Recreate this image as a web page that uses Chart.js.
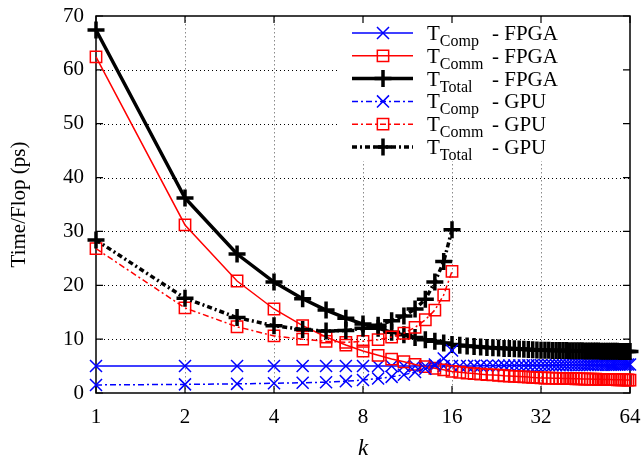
<!DOCTYPE html>
<html><head><meta charset="utf-8">
<script src="https://cdn.jsdelivr.net/npm/chart.js@4.4.0/dist/chart.umd.min.js"></script>
<style>html,body{margin:0;padding:0;background:#fff}</style>
</head><body>
<canvas id="c" width="642" height="460"></canvas>
<script>
// ---- data ----
const kFPGA = [1,2,3,4,5,6,7,8,9,10,11,12,13,14,15,16,17,18,19,20,21,22,23,24,25,26,27,28,29,30,31,32,
  33,34,35,36,37,38,39,40,41,42,43,44,45,46,47,48,49,50,51,52,53,54,55,56,57,58,59,60,61,62,63,64];
const tCompFPGA = [5.0,5.0,5.0,5.0,5.0,5.0,5.0,5.0,5.0,5.0,5.0,5.0,5.0,5.0,5.0,5.0,
  5.01,5.02,5.03,5.04,5.05,5.06,5.07,5.08,5.09,5.10,5.11,5.12,5.13,5.14,5.14,5.15,
  5.15,5.16,5.16,5.17,5.17,5.18,5.18,5.19,5.19,5.20,5.20,5.21,5.21,5.22,5.22,5.23,
  5.23,5.24,5.24,5.25,5.25,5.26,5.26,5.27,5.27,5.28,5.28,5.29,5.29,5.30,5.30,5.30];
const tCommFPGA = [62.4,31.2,20.8,15.6,12.5,10.4,8.9,7.8,7.0,6.3,5.8,5.3,4.9,4.6,4.3,4.0,
  3.85,3.7,3.6,3.5,3.4,3.35,3.3,3.2,3.15,3.1,3.05,3.0,2.95,2.9,2.85,2.8,
  2.78,2.77,2.75,2.73,2.72,2.7,2.69,2.67,2.66,2.64,2.63,2.62,2.6,2.59,2.58,2.57,
  2.56,2.54,2.53,2.52,2.51,2.5,2.49,2.48,2.47,2.46,2.45,2.44,2.43,2.42,2.41,2.4];
const tTotalFPGA = [67.4,36.2,25.8,20.6,17.5,15.4,13.9,12.8,12.0,11.3,10.8,10.3,9.9,9.6,9.3,9.0,
  8.86,8.72,8.63,8.54,8.45,8.41,8.37,8.28,8.24,8.2,8.16,8.12,8.08,8.04,7.99,7.95,
  7.93,7.93,7.91,7.9,7.89,7.88,7.87,7.86,7.85,7.84,7.83,7.83,7.81,7.81,7.8,7.8,
  7.79,7.78,7.77,7.77,7.76,7.75,7.75,7.74,7.73,7.73,7.72,7.72,7.72,7.71,7.71,7.7];
const kGPU = [1,2,3,4,5,6,7,8,9,10,11,12,13,14,15,16];
const tCompGPU = [1.5,1.6,1.7,1.8,1.9,2.0,2.2,2.4,2.7,3.0,3.4,3.9,4.5,5.3,6.4,7.9];
const tCommGPU = [26.8,15.8,12.3,10.6,10.0,9.6,9.4,9.6,9.9,10.4,11.1,12.2,13.6,15.4,18.2,22.6];
const tTotalGPU = [28.4,17.6,14.0,12.5,11.8,11.5,11.6,12.0,12.6,13.4,14.3,15.6,17.4,20.6,24.4,30.3];
const xTicks = [1,2,4,8,16,32,64];
const yTicks = [0,10,20,30,40,50,60,70];
const legendMain = ['T','T','T','T','T','T'];
const legendSub = ['Comp','Comm','Total','Comp','Comm','Total'];
const legendSuffix = ['- FPGA','- FPGA','- FPGA','- GPU','- GPU','- GPU'];

const SERIF = '"Liberation Serif", "DejaVu Serif", serif';
const pts = (ks, vs) => ks.map((k, i) => ({x: k, y: vs[i]}));
const dd = [6,3,2,3];

const series = [
  {data: pts(kFPGA, tCompFPGA), color: '#0000ff', width: 1.5, dash: [], style: 'crossRot', r: 8.5, pw: 1.5},
  {data: pts(kFPGA, tCommFPGA), color: '#ff0000', width: 1.5, dash: [], style: 'rect', r: 8, pw: 1.5},
  {data: pts(kFPGA, tTotalFPGA), color: '#000000', width: 3.5, dash: [], style: 'cross', r: 8.5, pw: 3.5},
  {data: pts(kGPU, tCompGPU), color: '#0000ff', width: 1.5, dash: dd, style: 'crossRot', r: 8.5, pw: 1.5},
  {data: pts(kGPU, tCommGPU), color: '#ff0000', width: 1.5, dash: dd, style: 'rect', r: 8, pw: 1.5},
  {data: pts(kGPU, tTotalGPU), color: '#000000', width: 3.5, dash: [5,3,2,3], style: 'cross', r: 8.5, pw: 3.5}
];

const datasets = series.map((s, i) => ({
  data: s.data, showLine: true, borderColor: s.color, borderWidth: s.width, borderDash: s.dash,
  pointStyle: s.style, pointRadius: s.r, pointBorderColor: s.color, pointBackgroundColor: 'rgba(0,0,0,0)',
  pointBorderWidth: s.pw, tension: 0, clip: false, order: 5 - i
}));

const frame = {
  id: 'frame',
  beforeDatasetsDraw(chart) {
    const {ctx, chartArea: a, scales: {x, y}} = chart;
    ctx.save();
    ctx.lineWidth = 1;
    ctx.strokeStyle = '#8a8a8a';
    ctx.setLineDash([1.5, 2.5]);
    xTicks.slice(1, -1).forEach(v => {
      const px = Math.round(x.getPixelForValue(v)) + 0.5;
      ctx.beginPath(); ctx.moveTo(px, a.top); ctx.lineTo(px, a.bottom); ctx.stroke();
    });
    ctx.strokeStyle = '#000';
    ctx.setLineDash([1, 3]);
    yTicks.slice(1, -1).forEach(v => {
      const py = Math.round(y.getPixelForValue(v)) + 0.5;
      ctx.beginPath(); ctx.moveTo(a.left, py); ctx.lineTo(a.right, py); ctx.stroke();
    });
    ctx.setLineDash([]);
    ctx.fillStyle = '#fff';
    ctx.fillRect(340, a.top + 1, a.right - 341, 160 - a.top);
    ctx.strokeStyle = '#000';
    ctx.lineWidth = 1.5;
    ctx.strokeRect(a.left, a.top, a.right - a.left, a.bottom - a.top);
    ctx.lineWidth = 1.2;
    xTicks.forEach(v => {
      const px = x.getPixelForValue(v);
      ctx.beginPath();
      ctx.moveTo(px, a.bottom); ctx.lineTo(px, a.bottom - 7);
      ctx.moveTo(px, a.top); ctx.lineTo(px, a.top + 7);
      ctx.stroke();
    });
    yTicks.forEach(v => {
      const py = y.getPixelForValue(v);
      ctx.beginPath();
      ctx.moveTo(a.left, py); ctx.lineTo(a.left + 7, py);
      ctx.moveTo(a.right, py); ctx.lineTo(a.right - 7, py);
      ctx.stroke();
    });
    ctx.restore();
  },
  afterDatasetsDraw(chart) {
    const ctx = chart.ctx;
    ctx.save();
    series.forEach((s, i) => {
      const yy = 33 + i * 22.8;
      ctx.strokeStyle = s.color;
      ctx.lineWidth = s.width;
      ctx.setLineDash(s.dash);
      ctx.beginPath(); ctx.moveTo(352, yy); ctx.lineTo(413, yy); ctx.stroke();
      ctx.setLineDash([]);
      ctx.strokeStyle = s.color; ctx.fillStyle = 'rgba(0,0,0,0)';
      ctx.lineWidth = s.pw;
      Chart.helpers.drawPoint(ctx, {pointStyle: s.style, radius: s.r, rotation: 0, borderWidth: s.pw}, 383, yy);
      ctx.fillStyle = '#000';
      ctx.textBaseline = 'alphabetic';
      ctx.textAlign = 'left';
      ctx.font = '21px ' + SERIF;
      ctx.fillText(legendMain[i], 427, yy + 7);
      const tw = ctx.measureText(legendMain[i]).width;
      ctx.font = '16px ' + SERIF;
      ctx.fillText(legendSub[i], 427 + tw, yy + 13);
      ctx.font = '21px ' + SERIF;
      ctx.fillText(legendSuffix[i], 492, yy + 7);
    });
    ctx.restore();
  }
};

new Chart(document.getElementById('c'), {
  type: 'scatter',
  data: {datasets},
  options: {
    responsive: false, animation: false, devicePixelRatio: 1,
    layout: {padding: {left: 0, right: 10, top: 16, bottom: 0}},
    plugins: {legend: {display: false}, tooltip: {enabled: false}},
    scales: {
      x: {
        type: 'logarithmic', min: 1, max: 64,
        afterBuildTicks: s => { s.ticks = xTicks.map(v => ({value: v})); },
        afterFit: s => { s.height = 67; s.paddingLeft = 0; s.paddingRight = 0; },
        ticks: {callback: v => String(v), font: {family: SERIF, size: 21}, color: '#000', padding: 12, maxRotation: 0, autoSkip: false},
        grid: {display: false, drawTicks: false}, border: {display: false},
        title: {display: true, text: 'k', font: {family: SERIF, size: 23, style: 'italic', lineHeight: 1.0}, color: '#000', padding: {top: 0, bottom: 0}}
      },
      y: {
        min: 0, max: 70,
        afterBuildTicks: s => { s.ticks = yTicks.map(v => ({value: v})); },
        afterFit: s => { s.width = 96; s.paddingTop = 0; s.paddingBottom = 0; },
        ticks: {font: {family: SERIF, size: 21}, color: '#000', padding: 12},
        grid: {display: false, drawTicks: false}, border: {display: false},
        title: {display: true, text: 'Time/Flop (ps)', font: {family: SERIF, size: 21}, color: '#000', padding: {top: 7, bottom: 0}}
      }
    }
  },
  plugins: [frame]
});
</script>
</body></html>
